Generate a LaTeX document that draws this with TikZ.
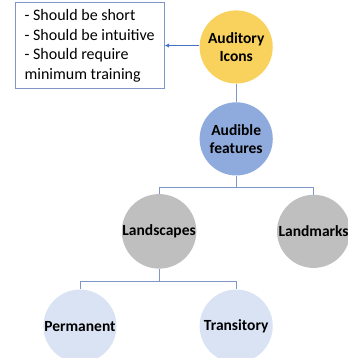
\documentclass[tikz,border=0pt]{standalone}
\usepackage{fontspec}
\setmainfont{Carlito}
\usetikzlibrary{arrows.meta,positioning}
\definecolor{iconyellow}{HTML}{F9D25E}
\definecolor{featblue}{HTML}{8FAADC}
\definecolor{scapegray}{HTML}{BFBFBF}
\definecolor{kindpale}{HTML}{DAE3F3}
\definecolor{linkblue}{HTML}{7F96C6}
\definecolor{arrowblue}{HTML}{4472C4}

\begin{document}
\begin{tikzpicture}[
  font=\fontsize{16pt}{19.5pt}\selectfont,
  note/.style={draw=linkblue, line width=0.9pt, align=left, minimum width=5.24cm, minimum height=3.02cm},
  bubble/.style={circle, minimum size=2.57cm, inner sep=0pt, align=center, font=\fontsize{15.5pt}{18pt}\selectfont\bfseries},
  link/.style={draw=linkblue, line width=0.9pt},
  arrow/.style={-{Latex[length=1.6mm,width=1.6mm]}, draw=arrowblue, line width=0.9pt}
]
\useasboundingbox (0,0) rectangle (12.20,12.58);

\node[note] (notes) at (3.15,10.97) {- Should be short\\- Should be intuitive\\- Should require\\minimum training};

\node[bubble, fill=iconyellow] (icons) at (8.30,10.93) {Auditory\\Icons};
\node[bubble, fill=featblue] (audible) at (8.30,7.70) {Audible\\features};

\node[bubble, fill=scapegray] (scapes) at (5.59,4.45) {Landscapes};
\node[bubble, fill=scapegray] (marks) at (11.02,4.45) {Landmarks};

\node[bubble, fill=kindpale] (perm) at (2.81,1.12) {Permanent};
\node[bubble, fill=kindpale] (trans) at (8.30,1.12) {Transitory};

\draw[arrow] ([yshift=0.05cm]icons.west) -- ([yshift=0.05cm]icons.west -| notes.east);
\draw[link] (icons.south) -- (audible.north);

\draw[link] (audible.south) -- ++(0,-0.42) coordinate (j1);
\foreach \x in {scapes,marks} \draw[link] (j1) -| (\x.north);

\draw[link] (scapes.south) -- ++(0,-0.45) coordinate (j2);
\foreach \x in {perm,trans} \draw[link] (j2) -| (\x.north);
\end{tikzpicture}
\end{document}
